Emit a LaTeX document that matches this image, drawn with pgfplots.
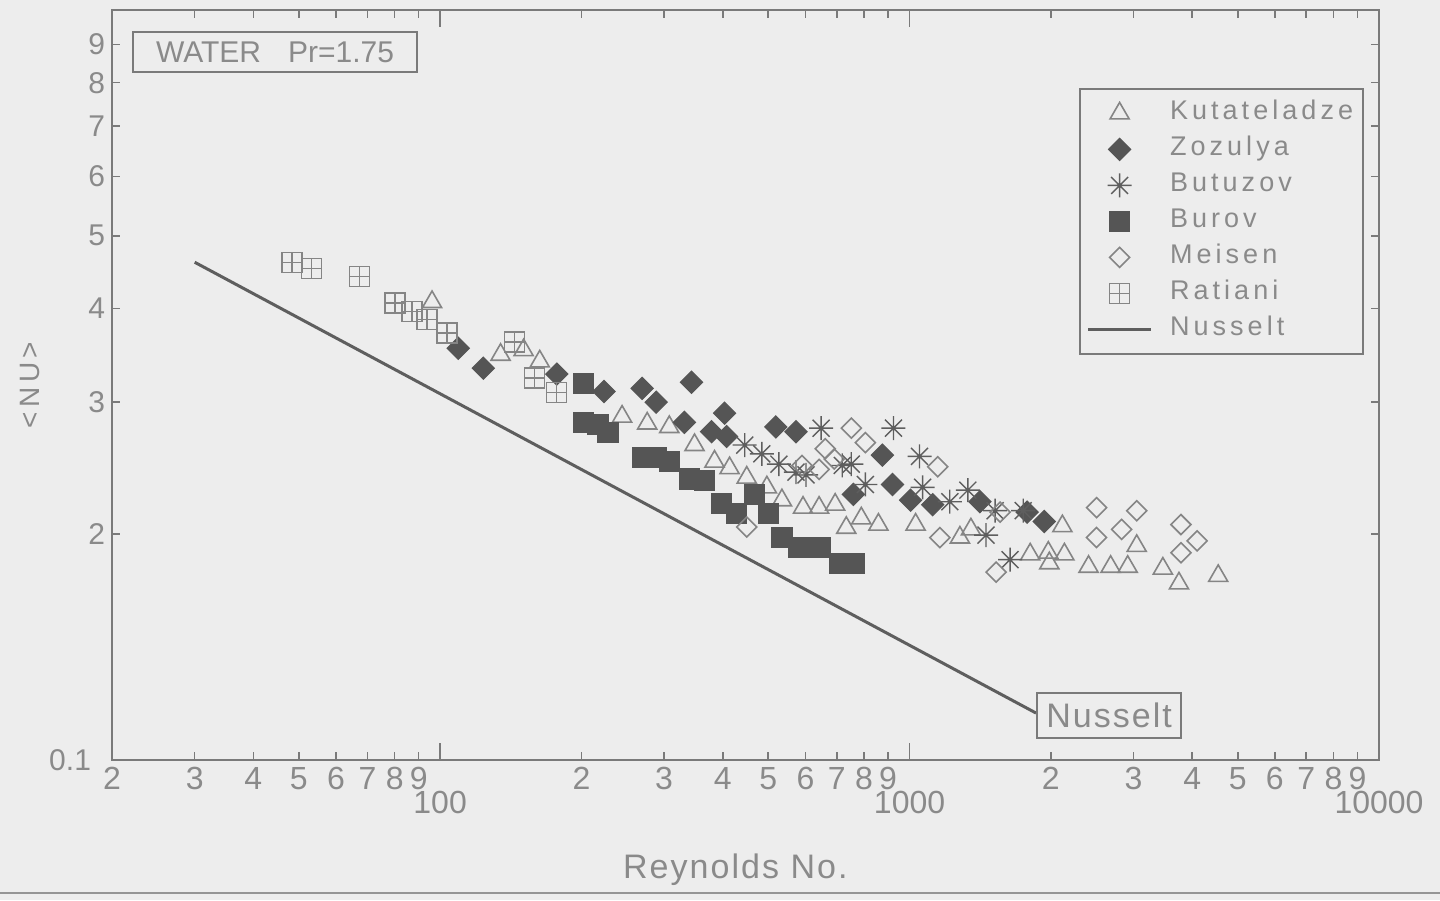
\documentclass[border=0pt]{standalone}
\usepackage{pgfplots}
\pgfplotsset{compat=1.18}
\usepackage{fontspec}
\setmainfont{Liberation Sans}
\newfontfamily\lsp[LetterSpace=15]{Liberation Sans}
\newfontfamily\lspb[LetterSpace=6]{Liberation Sans}
\definecolor{bgc}{HTML}{EDEDED}
\definecolor{textc}{HTML}{8A8A8A}
\definecolor{axc}{HTML}{7A7A7A}
\definecolor{fillc}{HTML}{555555}
\definecolor{openc}{HTML}{858585}
\definecolor{linec}{HTML}{5E5E5E}

\pgfdeclareplotmark{boxplus}{%
  \pgfpathrectangle{\pgfqpoint{-\pgfplotmarksize}{-\pgfplotmarksize}}{\pgfqpoint{2\pgfplotmarksize}{2\pgfplotmarksize}}%
  \pgfpathmoveto{\pgfqpoint{-\pgfplotmarksize}{0pt}}\pgfpathlineto{\pgfqpoint{\pgfplotmarksize}{0pt}}%
  \pgfpathmoveto{\pgfqpoint{0pt}{-\pgfplotmarksize}}\pgfpathlineto{\pgfqpoint{0pt}{\pgfplotmarksize}}%
  \pgfusepathqstroke}
\pgfdeclareplotmark{star8}{%
  \pgfpathmoveto{\pgfqpoint{-\pgfplotmarksize}{0pt}}\pgfpathlineto{\pgfqpoint{\pgfplotmarksize}{0pt}}%
  \pgfpathmoveto{\pgfqpoint{0pt}{-\pgfplotmarksize}}\pgfpathlineto{\pgfqpoint{0pt}{\pgfplotmarksize}}%
  \pgfpathmoveto{\pgfqpoint{-0.7071\pgfplotmarksize}{-0.7071\pgfplotmarksize}}\pgfpathlineto{\pgfqpoint{0.7071\pgfplotmarksize}{0.7071\pgfplotmarksize}}%
  \pgfpathmoveto{\pgfqpoint{-0.7071\pgfplotmarksize}{0.7071\pgfplotmarksize}}\pgfpathlineto{\pgfqpoint{0.7071\pgfplotmarksize}{-0.7071\pgfplotmarksize}}%
  \pgfusepathqstroke}
\pgfdeclareplotmark{rdiamond}{%
  \pgfpathmoveto{\pgfqpoint{0pt}{\pgfplotmarksize}}\pgfpathlineto{\pgfqpoint{\pgfplotmarksize}{0pt}}%
  \pgfpathlineto{\pgfqpoint{0pt}{-\pgfplotmarksize}}\pgfpathlineto{\pgfqpoint{-\pgfplotmarksize}{0pt}}\pgfpathclose
  \pgfusepathqstroke}
\pgfdeclareplotmark{rdiamond*}{%
  \pgfpathmoveto{\pgfqpoint{0pt}{\pgfplotmarksize}}\pgfpathlineto{\pgfqpoint{\pgfplotmarksize}{0pt}}%
  \pgfpathlineto{\pgfqpoint{0pt}{-\pgfplotmarksize}}\pgfpathlineto{\pgfqpoint{-\pgfplotmarksize}{0pt}}\pgfpathclose
  \pgfusepathqfillstroke}

\pgfplotsset{
  lineleg/.style={legend image code/.code={\draw[##1] (-0.25cm,0cm) -- (0.85cm,0cm);}},
}

\begin{document}
\begin{tikzpicture}
\fill[bgc] (-56pt,-70pt) rectangle (664pt,380pt);
\useasboundingbox (-56pt,-70pt) rectangle (664pt,380pt);
\draw[axc!80, line width=0.8pt] (-56pt,-66.5pt) -- (664pt,-66.5pt);
\begin{axis}[
  at={(0,0)}, anchor=south west,
  scale only axis, width=633.5pt, height=375pt,
  xmode=log, ymode=log,
  xmin=20, xmax=10000, ymin=1, ymax=10,
  axis line style={draw=axc, line width=0.9pt},
  tick style={draw=axc, line width=0.8pt},
  major tick length=8.5pt,
  minor tick length=0pt,
  tick label style={text=textc},
  xtick={100,1000,10000},
  xticklabels={\rule{0pt}{23pt}100,\rule{0pt}{23pt}1000,\rule{0pt}{23pt}10000},
  xticklabel style={font=\fontsize{16}{16}\selectfont},
  extra x ticks={20,30,40,50,60,70,80,90,200,300,400,500,600,700,800,900,2000,3000,4000,5000,6000,7000,8000,9000},
  extra x tick labels={2,3,4,5,6,7,8,9,2,3,4,5,6,7,8,9,2,3,4,5,6,7,8,9},
  extra x tick style={major tick length=4pt, tick label style={font=\fontsize{12}{12}\selectfont}},
  ytick={1},
  yticklabels={0.1},
  yticklabel style={font=\fontsize{15}{15}\selectfont, xshift=-7pt},
  extra y ticks={2,3,4,5,6,7,8,9},
  extra y tick labels={2,3,4,5,6,7,8,9},
  extra y tick style={major tick length=4pt, tick label style={font=\fontsize{11}{11}\selectfont, xshift=7pt}},
  xlabel={Reynolds No.},
  xlabel style={at={(axis description cs:0.492,-0.1467)}, anchor=center, text=textc, font=\lspb\fontsize{17}{17}\selectfont},
  ylabel={\textless\,NU\,\textgreater},
  ylabel style={at={(axis description cs:-0.0647,0.5)}, anchor=center, text=textc, font=\lsp\fontsize{14}{14}\selectfont},
  legend style={at={(0.988,0.896)}, anchor=north east, draw=axc, line width=0.8pt, fill=bgc,
    text=textc, font=\lsp\fontsize{13.5}{15}\selectfont,
    inner xsep=3.5pt, inner ysep=3.3pt, row sep=0pt, column sep=8.8pt,
    nodes={inner xsep=0pt, inner ysep=2.75pt, text height=9.5pt, text depth=3pt, text width=93pt, align=left}},
]
\addplot[only marks, mark=triangle, mark size=5.5pt, mark options={draw=openc, line width=0.8pt, fill=none}]
coordinates {(96.1,4.08) (134.5,3.47) (150.6,3.52) (163.0,3.40) (244.1,2.87) (276.1,2.81) (307.7,2.78) (348.3,2.63) (384.2,2.50) (413.6,2.45) (449.9,2.38) (496.6,2.31) (534.6,2.22) (593,2.17) (641.6,2.17) (694.2,2.19) (733.1,2.04) (789.3,2.10) (858.3,2.06) (1030,2.06) (1280,1.98) (1351,2.03) (1807,1.88) (1975,1.89) (1985,1.83) (2137,1.88) (2116,2.05) (2406,1.81) (2681,1.81) (2915,1.81) (3047,1.93) (3464,1.80) (3749,1.72) (4544,1.76)};
\addlegendentry{Kutateladze}
\addplot[only marks, mark=rdiamond*, mark size=5.5pt, mark options={draw=fillc, fill=fillc, line width=0.6pt}]
coordinates {(109.3,3.54) (123.6,3.33) (177.2,3.27) (223.4,3.10) (269.4,3.13) (288.6,3.00) (343.1,3.19) (331.4,2.82) (403.6,2.90) (378.6,2.74) (407.6,2.70) (519.0,2.78) (572.8,2.74) (875.4,2.55) (759.0,2.26) (919.6,2.33) (1005,2.22) (1120,2.19) (1412,2.21) (1780,2.14) (1936,2.08)};
\addlegendentry{Zozulya}
\addplot[only marks, mark=star8, mark size=6pt, mark options={draw=linec, line width=0.7pt}]
coordinates {(445.5,2.63) (484.4,2.56) (526.8,2.48) (572.8,2.42) (601.8,2.40) (648.0,2.77) (718.8,2.47) (751.4,2.48) (805.0,2.33) (924.0,2.77) (1050,2.54) (1066,2.31) (1218,2.21) (1331,2.29) (1521,2.15) (1455,1.995) (1637,1.85) (1746,2.15)};
\addlegendentry{Butuzov}
\addplot[only marks, mark=square*, mark size=5pt, mark options={draw=fillc, fill=fillc, line width=0.6pt}]
coordinates {(202.4,3.18) (202.4,2.82) (216.9,2.80) (227.9,2.73) (269.4,2.53) (288.6,2.53) (307.7,2.50) (339.6,2.37) (365.7,2.36) (397.7,2.20) (428.2,2.13) (468.0,2.26) (501.5,2.13) (534.6,1.98) (581.5,1.92) (644.9,1.92) (708.3,1.83) (762.5,1.83)};
\addlegendentry{Burov}
\addplot[only marks, mark=rdiamond, mark size=5pt, mark options={draw=openc, line width=0.8pt}]
coordinates {(449.9,2.045) (590.1,2.47) (641.6,2.44) (661.0,2.60) (691.0,2.52) (751.4,2.77) (805.0,2.65) (1148,2.46) (1559,2.14) (1160,1.98) (1529,1.78) (2502,2.17) (3047,2.15) (2502,1.98) (2830,2.03) (3786,2.06) (4097,1.96) (3786,1.89)};
\addlegendentry{Meisen}
\addplot[only marks, mark=boxplus, mark size=5pt, mark options={draw=openc, line width=0.7pt}]
coordinates {(48.4,4.61) (53.2,4.52) (67.4,4.41) (80.1,4.07) (87.1,3.96) (93.8,3.87) (103.5,3.71) (144.0,3.61) (159.0,3.23) (177.2,3.09)};
\addlegendentry{Ratiani}
\addplot[no marks, draw=linec, line width=1.5pt, lineleg]
coordinates {(30,4.61) (1860,1.155)};
\addlegendentry{Nusselt}
\node[draw=axc, line width=0.8pt, fill=bgc, text=textc, minimum width=142pt, minimum height=20pt, inner sep=0pt, font=\fontsize{15}{15}\selectfont] at (rel axis cs:0.1287,0.944) {WATER\hspace{0.9em}Pr=1.75};
\node[draw=axc, line width=0.8pt, fill=bgc, text=textc, minimum width=72pt, minimum height=22.5pt, inner sep=0pt, font=\lspb\fontsize{17}{17}\selectfont] at (rel axis cs:0.787,0.0593) {Nusselt};
\end{axis}
\end{tikzpicture}
\end{document}
